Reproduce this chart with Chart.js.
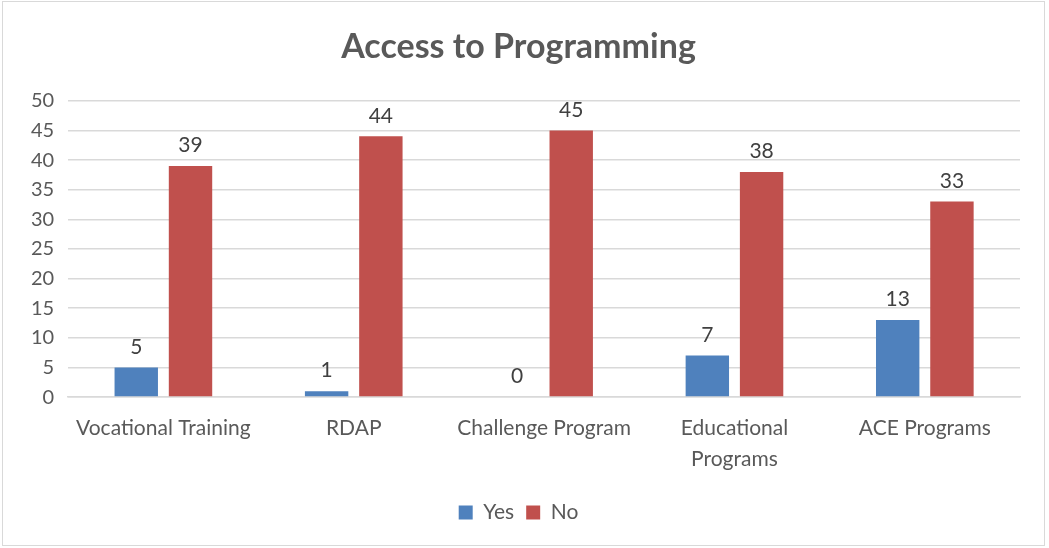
<!DOCTYPE html>
<html>
<head>
<meta charset="utf-8">
<script src="https://cdn.jsdelivr.net/npm/chart.js@4"></script>
<style>
  html, body { margin: 0; padding: 0; background: #fff; }
  #box {
    position: absolute; left: 2px; top: 1px;
    width: 1043px; height: 545px;
    border: 1px solid #d9d9d9;
    box-sizing: border-box;
  }
  canvas { display: block; }
</style>
</head>
<body>
<div id="box"><canvas id="grafico"></canvas></div>
<script>
const programas = ['Vocational Training', 'RDAP', 'Challenge Program', ['Educational', 'Programs'], 'ACE Programs'];
const sim = [5, 1, 0, 7, 13];
const nao = [39, 44, 45, 38, 33];

Chart.defaults.font.family = 'Lato, "Open Sans", sans-serif';
Chart.defaults.color = '#595959';

// escreve o valor em cima de cada barra
const rotulos = {
  id: 'rotulos',
  afterDatasetsDraw(chart) {
    const c = chart.ctx;
    c.save();
    c.font = '21px Lato, sans-serif';
    c.fillStyle = '#404040';
    c.textAlign = 'center';
    c.textBaseline = 'bottom';
    chart.data.datasets.forEach((ds, i) => {
      chart.getDatasetMeta(i).data.forEach((bar, j) => {
        c.fillText(ds.data[j], bar.x, bar.y - 10);
      });
    });
    c.restore();
  }
};

const config = {
  type: 'bar',
  data: {
    labels: programas,
    datasets: [{
      label: 'Yes',
      data: sim,
      backgroundColor: '#4f81bd',
      categoryPercentage: 0.57,
      barPercentage: 0.8
    }, {
      label: 'No',
      data: nao,
      backgroundColor: '#c0504d',
      categoryPercentage: 0.57,
      barPercentage: 0.8
    }]
  },
  options: {
    responsive: true,
    maintainAspectRatio: false,
    animation: false,
    layout: { padding: { left: 14, right: 24, top: 10, bottom: 12 } },
    plugins: {
      title: {
        display: true,
        text: 'Access to Programming',
        color: '#595959',
        font: { size: 34, weight: 'bold' },
        padding: { top: 15, bottom: 33 }
      },
      legend: {
        position: 'bottom',
        labels: {
          boxWidth: 14,
          boxHeight: 14,
          font: { size: 21 },
          padding: 12
        }
      },
      tooltip: { enabled: false }
    },
    scales: {
      y: {
        min: 0,
        max: 50,
        ticks: { stepSize: 5, font: { size: 20 }, padding: 14 },
        grid: { color: '#d9d9d9', lineWidth: 1.5, drawTicks: false },
        border: { display: false }
      },
      x: {
        ticks: { font: { size: 21, lineHeight: 1.45 }, padding: 16, maxRotation: 0 },
        grid: { display: false, drawTicks: false },
        border: { color: '#d9d9d9', width: 1.5 }
      }
    }
  },
  plugins: [rotulos]
};

const ctx = document.getElementById('grafico').getContext('2d');
new Chart(ctx, config);
</script>
</body>
</html>
